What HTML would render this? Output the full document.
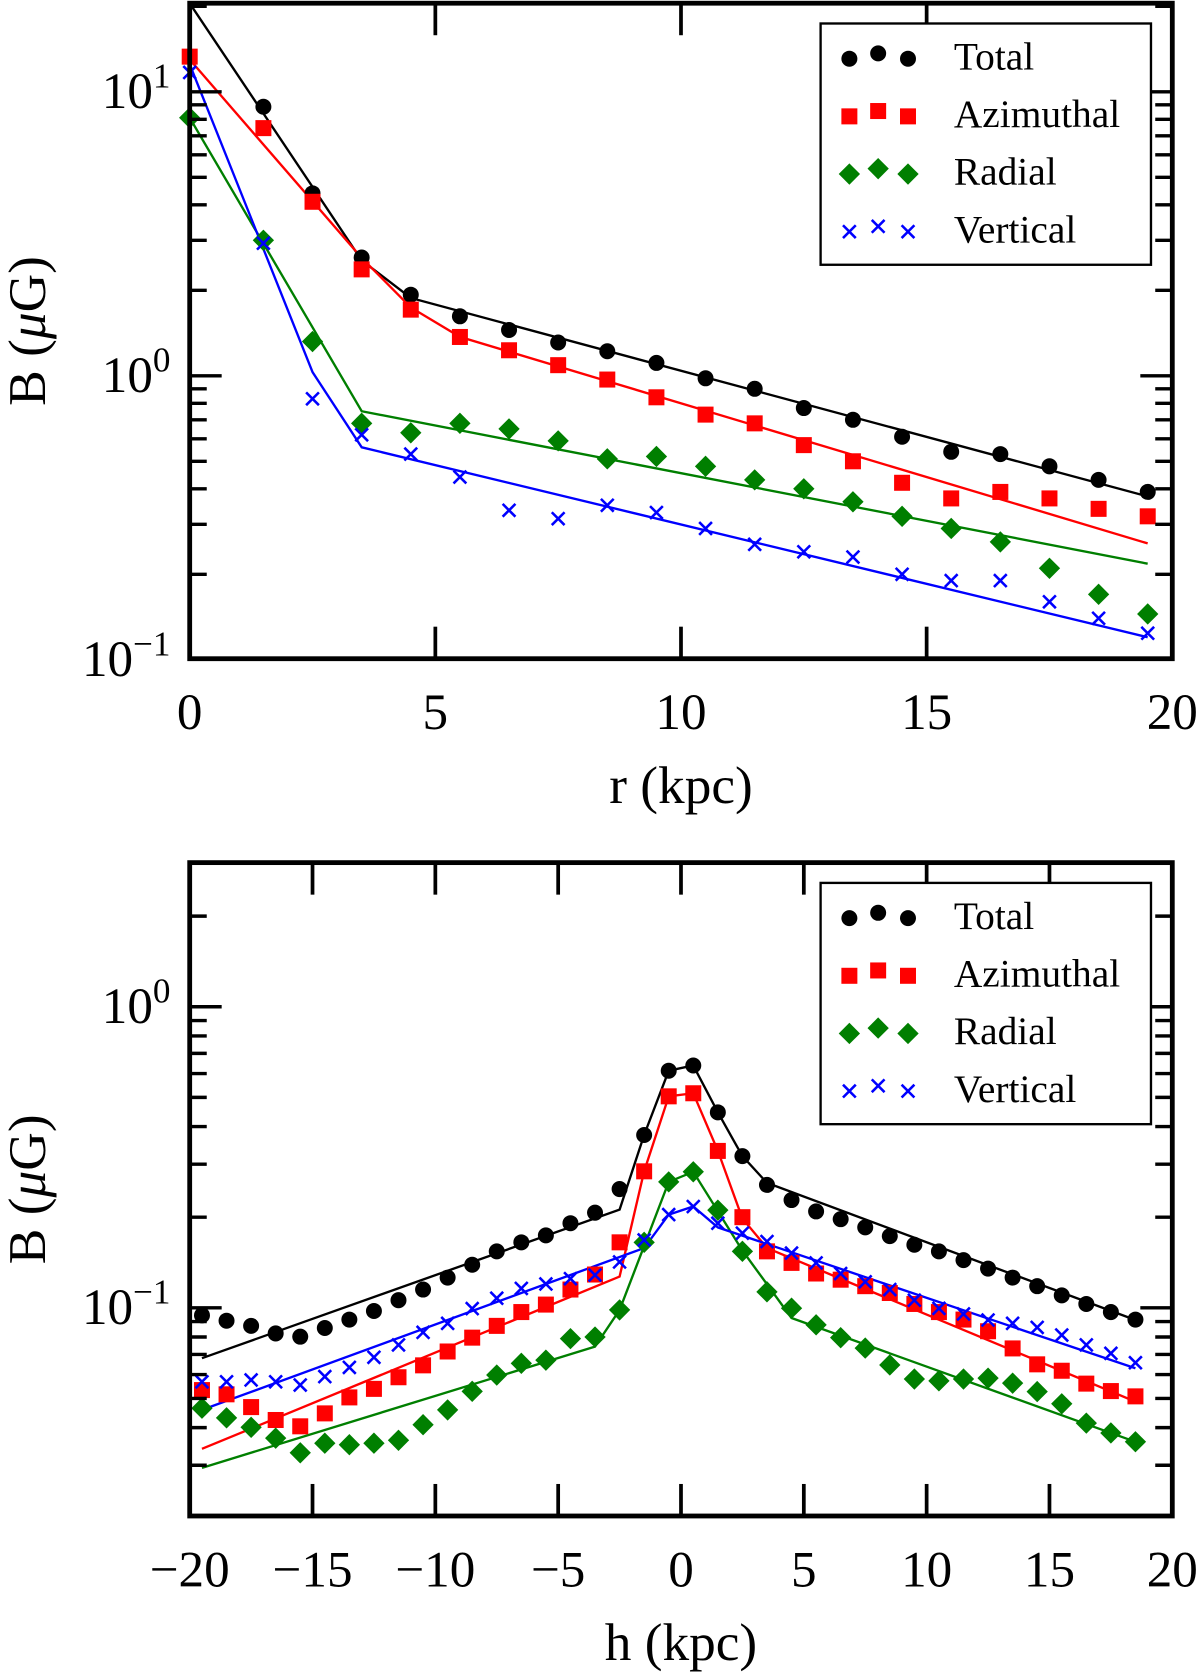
<!DOCTYPE html>
<html><head><meta charset="utf-8"><style>
html,body{margin:0;padding:0;background:#fff;}
svg{display:block;}
text{font-family:"Liberation Serif","DejaVu Serif",serif;fill:#000;}
</style></head><body>
<svg id="fig" width="1200" height="1674" viewBox="0 0 1126 1568" preserveAspectRatio="none" xmlns="http://www.w3.org/2000/svg"></svg>
<script>
// ---- Top panel data (r in kpc) ----
const rPts = [1.5,2.5,3.5,4.5,5.5,6.5,7.5,8.5,9.5,10.5,11.5,12.5,13.5,14.5,15.5,16.5,17.5,18.5,19.5];
const rTotal = [8.86,4.39,2.61,1.93,1.62,1.45,1.31,1.22,1.11,0.98,0.90,0.77,0.70,0.61,0.54,0.53,0.48,0.43,0.39];
const rAzPts = [0,1.5,2.5,3.5,4.5,5.5,6.5,7.5,8.5,9.5,10.5,11.5,12.5,13.5,14.5,15.5,16.5,17.5,18.5,19.5];
const rAzim = [13.3,7.45,4.1,2.37,1.71,1.37,1.23,1.09,0.97,0.84,0.73,0.68,0.57,0.50,0.42,0.37,0.39,0.37,0.34,0.32];
const rRadial = [8.1,3.0,1.32,0.68,0.63,0.68,0.65,0.59,0.51,0.52,0.48,0.43,0.40,0.36,0.32,0.29,0.26,0.21,0.17,0.145];
const rVert = [11.7,2.93,0.83,0.62,0.53,0.44,0.336,0.314,0.35,0.33,0.29,0.255,0.24,0.23,0.20,0.19,0.19,0.16,0.14,0.124];
const rLineTotX = [0,3.5,4.5,19.5], rLineTotY = [20.5,2.55,1.88,0.376];
const rLineAzX = [0,3.5,4.5,5.5,19.5], rLineAzY = [13.0,2.6,1.74,1.37,0.257];
const rLineRadX = [0,3.5,19.5], rLineRadY = [8.1,0.75,0.218];
const rLineVerX = [0,2.5,3.5,19.5], rLineVerY = [12.5,1.03,0.56,0.12];

// ---- Bottom panel data (h in kpc) ----
const hPts = [-19.5,-18.5,-17.5,-16.5,-15.5,-14.5,-13.5,-12.5,-11.5,-10.5,-9.5,-8.5,-7.5,-6.5,-5.5,-4.5,-3.5,-2.5,-1.5,-0.5,0.5,1.5,2.5,3.5,4.5,5.5,6.5,7.5,8.5,9.5,10.5,11.5,12.5,13.5,14.5,15.5,16.5,17.5,18.5];
const hTotal = [0.0944,0.0906,0.0871,0.0822,0.0802,0.0857,0.0914,0.0976,0.106,0.115,0.126,0.139,0.154,0.165,0.174,0.191,0.207,0.248,0.375,0.613,0.638,0.446,0.319,0.256,0.228,0.209,0.197,0.185,0.173,0.162,0.154,0.144,0.135,0.126,0.118,0.110,0.103,0.0968,0.0914];
const hAzim = [0.0533,0.0516,0.0468,0.0424,0.0404,0.0446,0.0504,0.0538,0.0588,0.0644,0.0716,0.0796,0.0871,0.0968,0.1025,0.115,0.129,0.165,0.284,0.504,0.516,0.332,0.200,0.154,0.141,0.130,0.124,0.118,0.112,0.103,0.0968,0.0914,0.0836,0.0733,0.0649,0.0618,0.0560,0.0529,0.0508];
const hRadial = [0.0464,0.0431,0.0401,0.0369,0.0330,0.0355,0.0351,0.0355,0.0363,0.0409,0.0458,0.0528,0.0598,0.0654,0.067,0.079,0.080,0.0984,0.165,0.262,0.283,0.211,0.154,0.113,0.0997,0.0878,0.0796,0.0735,0.0646,0.0580,0.0572,0.0580,0.0584,0.0562,0.0527,0.0480,0.0414,0.0384,0.0359];
const hVert = [0.0568,0.0568,0.0576,0.0568,0.0554,0.0591,0.0634,0.0685,0.0753,0.0829,0.0888,0.0994,0.1076,0.116,0.120,0.125,0.1285,0.142,0.168,0.204,0.217,0.191,0.177,0.166,0.152,0.141,0.130,0.122,0.115,0.106,0.0996,0.0954,0.0911,0.0888,0.0861,0.0812,0.0753,0.0706,0.0657];
const hLineTotX = [-19.5,-2.5,-1.5,-0.5,0.5,1.5,2.5,3.5,18.5], hLineTotY = [0.068,0.212,0.375,0.613,0.638,0.446,0.319,0.26,0.0911];
const hLineAzX = [-19.5,-2.5,-1.5,-0.5,0.5,1.5,2.5,3.5,18.5], hLineAzY = [0.034,0.127,0.284,0.504,0.516,0.332,0.198,0.158,0.0488];
const hLineRadX = [-19.5,-3.5,-2.5,-0.5,0.5,2.5,4.5,18.5], hLineRadY = [0.0294,0.0743,0.0984,0.262,0.283,0.155,0.0925,0.0359];
const hLineVerX = [-19.5,-1.5,-0.5,0.5,1.5,18.5], hLineVerY = [0.0458,0.158,0.204,0.217,0.185,0.063];

const NS = "http://www.w3.org/2000/svg";
const svg = document.getElementById('fig');
function el(tag, attrs, parent){ const e=document.createElementNS(NS,tag); for(const k in attrs) e.setAttribute(k,attrs[k]); (parent||svg).appendChild(e); return e; }

function makePanel(p){
  const g = el('g',{});
  
  
  const X = v => p.x0 + (v - p.xmin)/(p.xmax-p.xmin)*(p.x1-p.x0);
  const Y = v => p.yRef - (Math.log10(v) - p.refExp)*p.dec;
  p.lines.forEach(L=>{
    const pts = L.xs.map((x,i)=>X(x).toFixed(1)+','+Y(L.ys[i]).toFixed(1)).join(' ');
    const pl = el('polyline',{points:pts, fill:'none', stroke:L.c, 'stroke-width':2.2}, g);
    
    
  });
  function marker(type, cx, cy, parent, name){
    let m;
    if(type==='dot') m = el('circle',{cx:cx, cy:cy, r:7.5, fill:'#000'}, parent);
    else if(type==='sq') m = el('rect',{x:cx-7.5, y:cy-7.5, width:15, height:15, fill:'#f00'}, parent);
    else if(type==='dia') m = el('polygon',{points:`${cx},${cy-10} ${cx+10},${cy} ${cx},${cy+10} ${cx-10},${cy}`, fill:'#007f00'}, parent);
    else m = el('path',{d:`M${cx-6},${cy-6}L${cx+6},${cy+6}M${cx+6},${cy-6}L${cx-6},${cy+6}`, stroke:'#00f', 'stroke-width':2.4, fill:'none'}, parent);
    
    
  }
  p.series.forEach(S=>{
    S.ys.forEach((v,i)=>{ marker(S.t, X(S.xs[i]), Y(v), g, S.n); });
  });
  const fr = el('rect',{x:p.x0, y:p.y0, width:p.x1-p.x0, height:p.y1-p.y0, fill:'none', stroke:'#000', 'stroke-width':4.5}, g);
  
  
  p.xticks.forEach((t,i)=>{
    const x = X(t);
    if(t>p.xmin && t<p.xmax){
      el('line',{x1:x,y1:p.y1,x2:x,y2:p.y1-30,stroke:'#000','stroke-width':3.5},g);
      el('line',{x1:x,y1:p.y0,x2:x,y2:p.y0+30,stroke:'#000','stroke-width':3.5},g);
    }
    const tl = el('text',{x:x, y:p.y1+66, 'font-size':48, 'text-anchor':'middle'}, g);
    tl.textContent = p.xlabels[i];
    
    
  });
  for(let e=p.eMin; e<=p.eMax; e++){
    for(let k=1;k<10;k++){
      const v = k*Math.pow(10,e); const y = Y(v);
      if(y < p.y0+2 || y > p.y1-2) continue;
      const len = k===1?30:16;
      el('line',{x1:p.x0,y1:y,x2:p.x0+len,y2:y,stroke:'#000','stroke-width':3.2},g);
      el('line',{x1:p.x1,y1:y,x2:p.x1-len,y2:y,stroke:'#000','stroke-width':3.2},g);
    }
  }
  p.ylabels.forEach(L=>{
    const y = Y(Math.pow(10,L));
    const t = el('text',{x:p.x0-18, y:y+15, 'font-size':48, 'text-anchor':'end'}, g);
    
    
    const b = el('tspan',{},t); b.textContent='10';
    const s = el('tspan',{dy:-19,'font-size':33},t); s.textContent = L<0?('\u2212'+(-L)):String(L);
  });
  const yt = el('text',{x:0,y:0,'font-size':50,'text-anchor':'middle',transform:`translate(42,${(p.y0+p.y1)/2}) rotate(-90)`}, g);
  
  
  const t1 = el('tspan',{},yt); t1.textContent='B (';
  const t2 = el('tspan',{'font-style':'italic'},yt); t2.textContent='\u03BC';
  const t3 = el('tspan',{},yt); t3.textContent='G)';
  const xt = el('text',{x:(p.x0+p.x1)/2, y:p.y1+135, 'font-size':50, 'text-anchor':'middle'}, g);
  xt.textContent = p.xtitle;
  
  
  const lg = el('g',{}, g);
  
  
  const lb = el('rect',{x:770, y:p.legY, width:310, height:226, fill:'#fff', stroke:'#000', 'stroke-width':2.2}, lg);
  
  
  const items = [['dot','Total'],['sq','Azimuthal'],['dia','Radial'],['x','Vertical']];
  items.forEach((it,i)=>{
    const cy = p.legY + 31 + i*54;
    const eg = el('g',{}, lg);
    
    
    marker(it[0], 797, cy+2, eg, 'legend-marker');
    marker(it[0], 824, cy-3, eg, 'legend-marker');
    marker(it[0], 852, cy+2, eg, 'legend-marker');
    const t = el('text',{x:895, y:cy+12, 'font-size':37}, eg);
    t.textContent = it[1];
  });
}

makePanel({name:'radial-profile-panel', x0:178, x1:1100, y0:3, y1:617, xmin:0, xmax:20, yRef:352, refExp:0, dec:266,
  eMin:-1, eMax:1, xticks:[0,5,10,15,20], xlabels:['0','5','10','15','20'], ylabels:[1,0,-1], xtitle:'r (kpc)', legY:22,
  lines:[{xs:rLineTotX,ys:rLineTotY,c:'#000',n:'total-fit-line'},{xs:rLineAzX,ys:rLineAzY,c:'#f00',n:'azimuthal-fit-line'},
         {xs:rLineRadX,ys:rLineRadY,c:'#007f00',n:'radial-fit-line'},{xs:rLineVerX,ys:rLineVerY,c:'#00f',n:'vertical-fit-line'}],
  series:[{t:'dot',xs:rPts,ys:rTotal,n:'total-point'},{t:'sq',xs:rAzPts,ys:rAzim,n:'azimuthal-point'},
          {t:'dia',xs:rAzPts,ys:rRadial,n:'radial-point'},{t:'x',xs:rAzPts,ys:rVert,n:'vertical-point'}]
});
makePanel({name:'vertical-profile-panel', x0:178, x1:1100, y0:808, y1:1420, xmin:-20, xmax:20, yRef:943, refExp:0, dec:282,
  eMin:-2, eMax:0, xticks:[-20,-15,-10,-5,0,5,10,15,20], xlabels:['\u221220','\u221215','\u221210','\u22125','0','5','10','15','20'], ylabels:[0,-1], xtitle:'h (kpc)', legY:827,
  lines:[{xs:hLineTotX,ys:hLineTotY,c:'#000',n:'total-fit-line'},{xs:hLineAzX,ys:hLineAzY,c:'#f00',n:'azimuthal-fit-line'},
         {xs:hLineRadX,ys:hLineRadY,c:'#007f00',n:'radial-fit-line'},{xs:hLineVerX,ys:hLineVerY,c:'#00f',n:'vertical-fit-line'}],
  series:[{t:'dot',xs:hPts,ys:hTotal,n:'total-point'},{t:'sq',xs:hPts,ys:hAzim,n:'azimuthal-point'},
          {t:'dia',xs:hPts,ys:hRadial,n:'radial-point'},{t:'x',xs:hPts,ys:hVert,n:'vertical-point'}]
});
</script>
</body></html>
